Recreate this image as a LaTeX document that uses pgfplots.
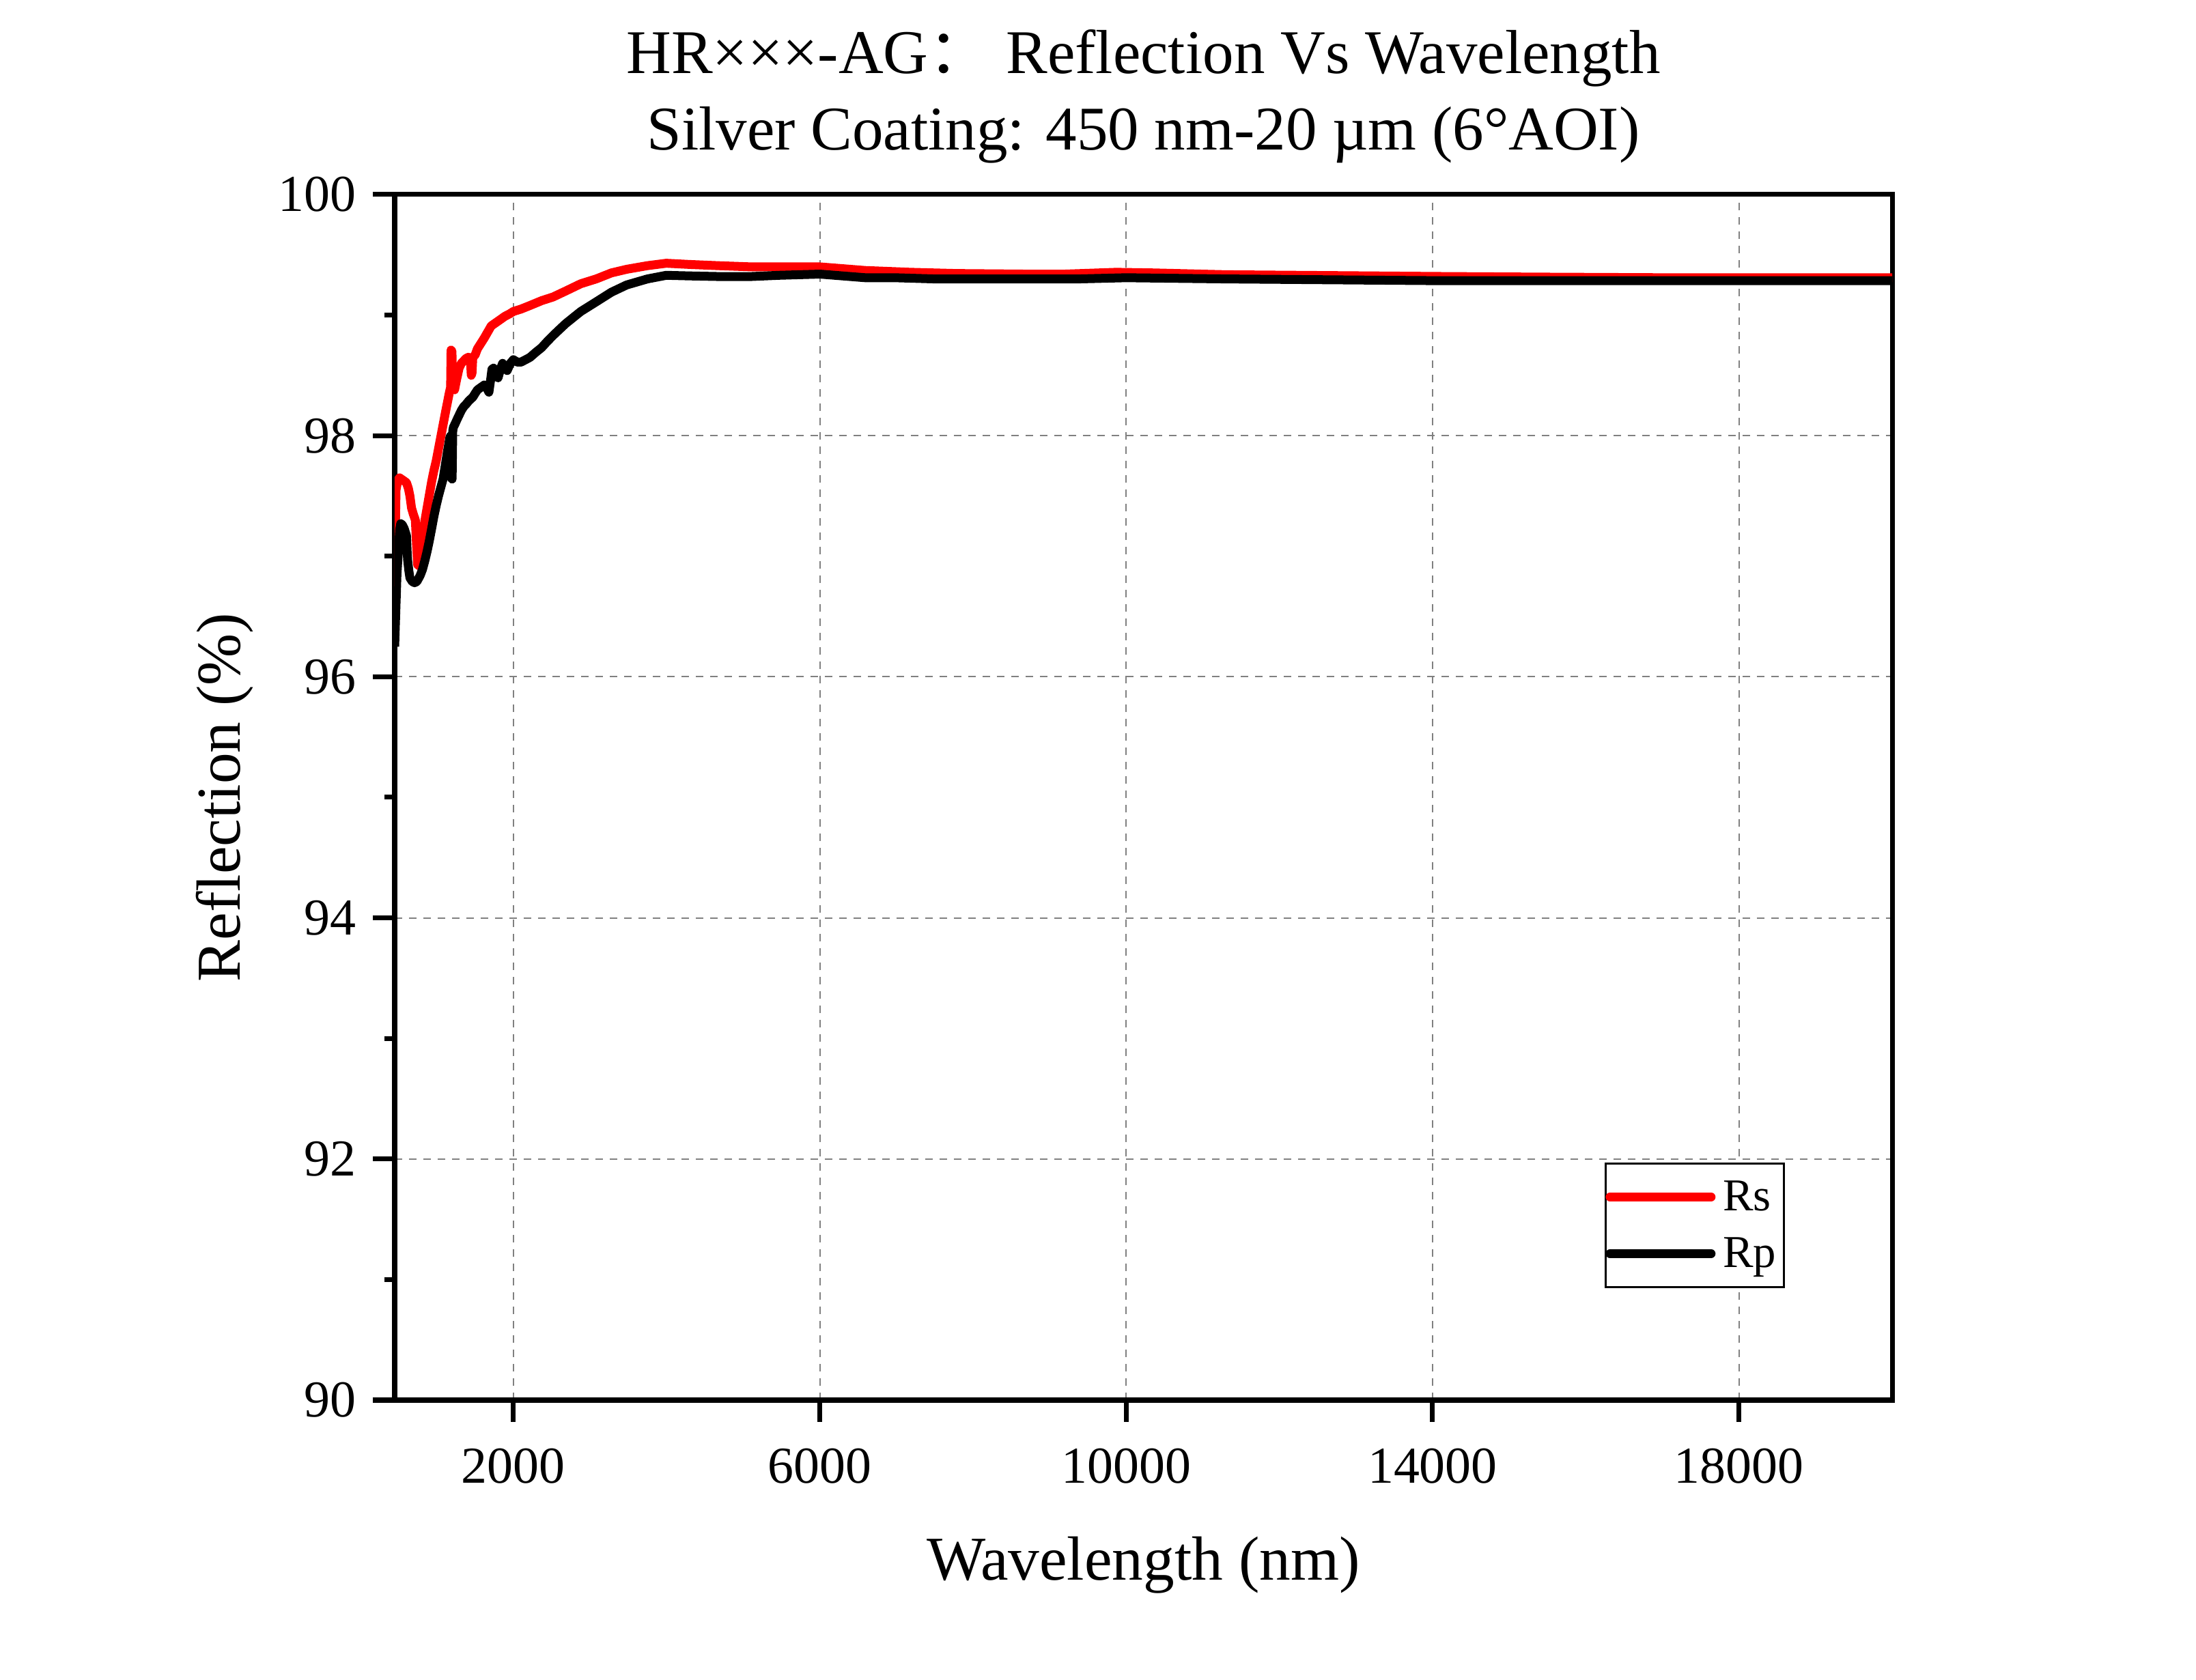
\documentclass[border=0pt]{standalone}
\usepackage{fontspec}
\setmainfont{Liberation Serif}
\newfontfamily\cjk{Noto Sans CJK SC}
\usepackage{pgfplots}
\pgfplotsset{compat=1.18}
\usepackage{pgfplotstable}

\pgfplotstableread{
x y
450 96.75
458 97.20
468 97.55
490 97.63
514 97.65
560 97.63
604 97.61
630 97.56
649 97.50
670 97.40
693 97.35
720 97.30
735 97.10
750 96.93
770 96.92
790 97.00
813 97.17
843 97.29
873 97.40
903 97.51
933 97.62
962 97.71
992 97.79
1022 97.89
1052 97.99
1082 98.09
1112 98.19
1140 98.28
1165 98.36
1180 98.40
1186 98.71
1198 98.70
1206 98.42
1232 98.38
1260 98.47
1291 98.56
1321 98.60
1351 98.62
1381 98.64
1411 98.65
1440 98.62
1450 98.50
1460 98.52
1470 98.65
1501 98.67
1530 98.72
1560 98.75
1590 98.78
1620 98.81
1665 98.86
1710 98.91
1755 98.93
1800 98.95
1845 98.97
1889 98.99
1950 99.01
2000 99.03
2100 99.05
2218 99.08
2370 99.12
2517 99.15
2684 99.20
2880 99.26
3081 99.30
3280 99.35
3479 99.38
3750 99.41
3996 99.43
4300 99.42
4672 99.41
5104 99.40
5467 99.40
6000 99.40
6594 99.37
7189 99.355
7783 99.345
8675 99.34
9200 99.34
9870 99.355
10350 99.35
11300 99.335
12260 99.33
13220 99.325
14170 99.32
15420 99.315
17000 99.31
20000 99.31
}\rsdata

\pgfplotstableread{
x y
450 96.25
460 96.45
480 96.85
499 97.05
515 97.22
529 97.27
550 97.26
574 97.23
604 97.17
612 97.05
619 96.97
635 96.88
649 96.82
680 96.79
710 96.78
740 96.79
783 96.84
813 96.89
843 96.96
873 97.04
903 97.13
933 97.23
962 97.33
992 97.42
1022 97.50
1052 97.57
1082 97.64
1112 97.76
1142 97.88
1172 97.99
1185 98.00
1190 97.65
1200 97.64
1208 98.04
1217 98.07
1240 98.10
1261 98.13
1291 98.17
1321 98.21
1351 98.24
1381 98.26
1420 98.29
1471 98.32
1500 98.35
1531 98.38
1575 98.40
1620 98.42
1650 98.40
1680 98.36
1700 98.45
1720 98.55
1740 98.56
1770 98.52
1800 98.48
1830 98.55
1859 98.60
1890 98.56
1919 98.54
1960 98.60
2000 98.63
2050 98.61
2099 98.61
2160 98.63
2218 98.65
2290 98.69
2368 98.73
2440 98.78
2517 98.83
2600 98.88
2684 98.93
2880 99.03
3081 99.11
3280 99.19
3479 99.25
3750 99.30
3996 99.33
4300 99.325
4672 99.32
5104 99.32
5467 99.33
6000 99.34
6594 99.31
6980 99.31
7500 99.30
8230 99.30
9380 99.30
10000 99.31
11300 99.30
13220 99.29
14170 99.285
17000 99.285
20000 99.285
}\rpdata

\begin{document}
\begin{tikzpicture}
\path[use as bounding box] (-28.9mm,-20.5mm) rectangle (131.9mm,102.55mm);
\begin{axis}[
  at={(0,0)}, anchor=south west,
  scale only axis, width=109.65mm, height=88.3mm,
  xmin=450, xmax=20000, ymin=90, ymax=100,
  xtick={2000,6000,10000,14000,18000},
  ytick={90,92,94,96,98,100},
  minor ytick={91,93,95,97,99},
  tick pos=left, tick align=outside,
  major tick length=1.6mm, minor tick length=0.75mm,
  tick style={black, line width=1pt},
  axis line style={line width=1pt},
  grid=major,
  major grid style={color=gray, line width=0.3pt, dash pattern=on 0.55mm off 0.5mm},
  /pgf/number format/assume math mode=true,
  /pgf/number format/1000 sep={},
  scaled x ticks=false,
  tick label style={font=\fontsize{10.8}{13}\selectfont},
  xticklabel style={yshift=-0.7mm},
  xlabel={Wavelength (nm)},
  xlabel style={font=\fontsize{13}{15}\selectfont, at={(axis description cs:0.5,0)}, anchor=base, yshift=-13.2mm},
  ylabel={Reflection (\%)},
  ylabel style={font=\fontsize{13}{15}\selectfont, at={([xshift=-11.3mm]axis description cs:0,0.5)}, anchor=base},
  legend style={at={(0.808,0.197)}, anchor=north west, draw=black, line width=0.4pt,
    font=\fontsize{9.5}{11}\selectfont, inner xsep=0pt, inner ysep=0.55mm,
    row sep=0.35mm,
    nodes={inner xsep=0.55mm, inner ysep=0.6mm, text height=2.3mm, text depth=0.3mm}},
  legend cell align=left,
  legend image code/.code={\draw[#1, line cap=round] (0mm,0mm) -- (7.4mm,0mm);},
]
\addplot[red, line width=1.85pt, line join=round] table[x=x,y=y] {\rsdata};
\addlegendentry{Rs}
\addplot[black, line width=1.85pt, line join=round] table[x=x,y=y] {\rpdata};
\addlegendentry{Rp}
\end{axis}
\node[anchor=base, font=\fontsize{12.95}{16}\selectfont] at (54.825mm,97.15mm) {HR×××-AG{\cjk ：} Reflection Vs Wavelength};
\node[anchor=base, font=\fontsize{12.95}{16}\selectfont] at (54.825mm,91.55mm) {Silver Coating: 450 nm-20 µm (6°AOI)};
\end{tikzpicture}
\end{document}
